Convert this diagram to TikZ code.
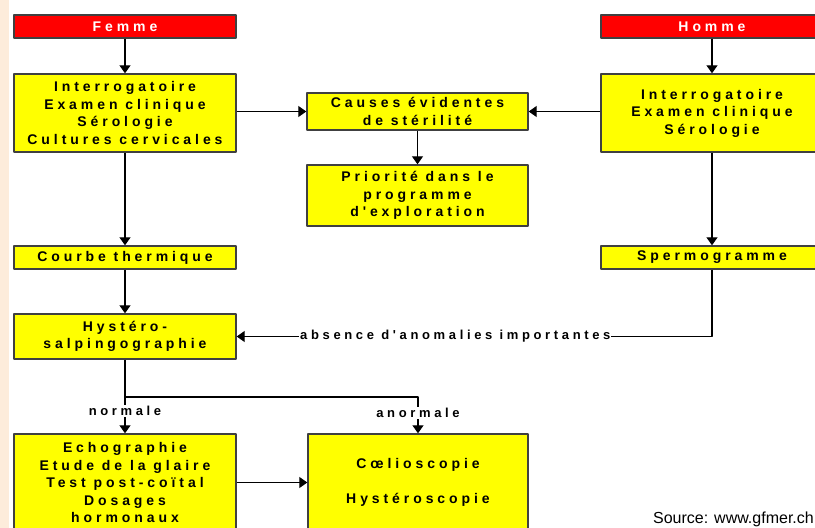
\documentclass[tikz,border=0pt]{standalone}
\usepackage{fontspec}
\setmainfont{Liberation Sans}
\newfontfamily\boxfont{Liberation Sans Bold}[LetterSpace=28]
\newfontfamily\srcfont{Liberation Sans}
\usetikzlibrary{arrows.meta}
\definecolor{strip}{RGB}{253,236,219}
\definecolor{boxyellow}{RGB}{255,255,0}
\definecolor{boxred}{RGB}{255,0,0}
\definecolor{rim}{RGB}{64,64,64}
\begin{document}
\begin{tikzpicture}[x=1pt, y=-1pt, line join=round, >={Triangle[width=11pt,length=8pt]},
  font=\boxfont\fontsize{14}{17.5}\selectfont,
  box/.style={draw=rim, line width=1.4pt, fill=boxyellow, align=center, inner sep=0pt, minimum width=222pt},
  titlebox/.style={box, fill=boxred, text=white, minimum height=23pt},
  lbl/.style={fill=white, inner sep=1pt, font=\boxfont\fontsize{13}{15}\selectfont}]
\useasboundingbox (0,0) rectangle (815,528);
\clip (0,0) rectangle (815,528);
\fill[strip] (0,0) rectangle (9,528);
% femme
\node[titlebox] (femme) at (125,26.5) {Femme};
\node[box, minimum height=78pt] (fexam) at (125,113) {Interrogatoire\\Examen clinique\\Sérologie\\Cultures cervicales};
\node[box, minimum height=23pt] (courbe) at (125,257.5) {Courbe thermique};
\node[box, minimum height=45pt] (hsg) at (125,336.5) {Hystéro-\\salpingographie};
\node[box, minimum height=97pt] (echo) at (125,482.5) {Echographie\\Etude de la glaire\\Test post-coïtal\\Dosages\\hormonaux};
% homme
\node[titlebox] (homme) at (712,26.5) {Homme};
\node[box, minimum height=78pt] (hexam) at (712,113) {Interrogatoire\\Examen clinique\\Sérologie};
\node[box, minimum height=23pt] (sperm) at (712,257.5) {Spermogramme};
% milieu
\node[box, minimum width=221pt, minimum height=37pt] (causes) at (417.5,111.5) {Causes évidentes\\de stérilité};
\node[box, minimum width=221pt, minimum height=61pt] (prio) at (417.5,195.5) {Priorité dans le\\programme\\d'exploration};
\node[box, minimum width=220pt, minimum height=97pt] (coel) at (418,482.5) {Cœlioscopie\\[17.5pt]Hystéroscopie};
\coordinate (split) at (125,397);
\draw[line width=1.2pt, ->] (femme) -- (fexam);
\draw[line width=1.2pt, ->] (homme) -- (hexam);
\draw[line width=1.2pt, ->] (fexam.east |- causes.west) -- (causes.west);
\draw[line width=1.2pt, ->] (hexam.west |- causes.east) -- (causes.east);
\draw[line width=1.2pt, ->] (causes) -- (prio);
\draw[line width=1.2pt, ->] (fexam) -- (courbe);
\draw[line width=1.2pt, ->] (hexam) -- (sperm);
\draw[line width=1.2pt, ->] (courbe) -- (hsg);
\draw[line width=1.2pt, ->] (sperm.south) |- node[lbl, pos=0.77] {absence d'anomalies importantes} (hsg.east);
\draw[line width=1.2pt] (hsg.south) -- (split);
\draw[line width=1.2pt, ->] (split) -- node[lbl, pos=0.38] {normale} (echo.north);
\draw[line width=1.2pt, ->] (split) -| node[lbl, pos=0.72] {anormale} (coel.north);
\draw[line width=1.2pt, ->] (echo.east |- coel.west) -- (coel.west);
\node[anchor=east, inner sep=1pt, font=\srcfont\fontsize{16}{18}\selectfont] (src) at (815,519) {Source: www.gfmer.ch};
\end{tikzpicture}
\end{document}
